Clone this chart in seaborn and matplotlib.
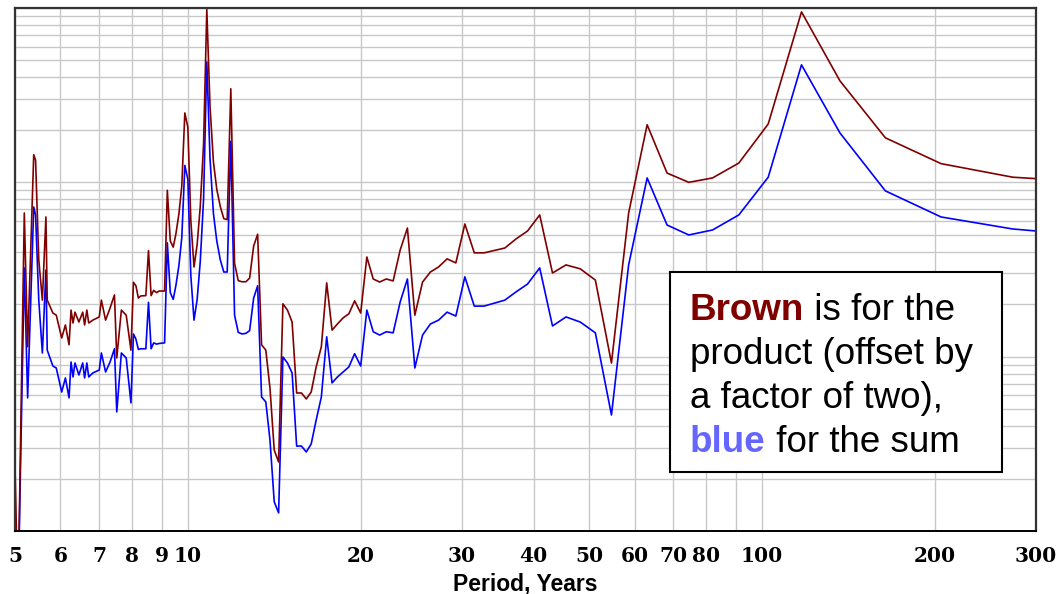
import pandas as pd
import seaborn as sns
import matplotlib
matplotlib.use("Agg")
import matplotlib.pyplot as plt
from matplotlib.patches import Rectangle
from matplotlib.ticker import LogLocator, NullFormatter

# periods (years) at which the spectrum was evaluated
period = [5.00, 5.06, 5.19, 5.26, 5.39, 5.43, 5.50, 5.58, 5.66, 5.69,
          5.82, 5.90, 6.03, 6.12, 6.21, 6.26, 6.31, 6.36, 6.46, 6.56,
          6.61, 6.67, 6.72, 6.83, 7.01, 7.07, 7.19, 7.32, 7.45, 7.52,
          7.66, 7.81, 7.96, 8.04, 8.12, 8.20, 8.28, 8.45, 8.54, 8.63,
          8.72, 8.82, 8.91, 9.11, 9.21, 9.32, 9.43, 9.53, 9.65, 9.76,
          9.88, 10.00, 10.12, 10.25, 10.38, 10.51, 10.65, 10.79, 10.93, 11.08,
          11.23, 11.39, 11.55, 11.71, 11.88, 12.06, 12.24, 12.42, 12.62, 12.81,
          13.02, 13.23, 13.44, 13.67, 13.90, 14.14, 14.39, 14.64, 14.91, 15.19,
          15.47, 15.77, 16.08, 16.40, 16.73, 17.08, 17.45, 17.83, 18.22, 18.64,
          19.07, 19.52, 20.00, 20.50, 21.03, 21.58, 22.16, 22.78, 23.43, 24.12,
          24.85, 25.63, 26.45, 27.33, 28.28, 29.29, 30.37, 31.54, 32.80, 35.65,
          37.27, 39.05, 41.00, 43.16, 45.56, 48.24, 51.25, 54.67, 58.57, 63.08,
          68.33, 74.55, 82.00, 91.11, 102.50, 117.14, 136.67, 164.00, 205.00, 273.33,
          300.00]

# product, offset by a factor of two (brown)
product_x2 = [2.33, 0.4, 66.7, 11.4, 144, 134, 35.9, 21.1, 63.3, 21.1,
              17.8, 17.3, 12.8, 15.2, 11.7, 18.5, 15.6, 18.0, 15.8, 18.0,
              15.2, 18.5, 15.6, 16.2, 16.9, 21.1, 16.2, 19.0, 22.6, 9.83,
              18.5, 17.3, 10.9, 26.7, 25.5, 21.7, 22.3, 22.4, 40.6, 22.4,
              24.0, 23.3, 23.8, 23.8, 90.0, 46.1, 42.5, 50.4, 66.3, 95.4,
              250, 207, 60.5, 32.7, 44.0, 72.6, 165, 980, 272, 131,
              91.2, 72.6, 61.9, 61.1, 344, 34.3, 27.3, 26.9, 26.9, 28.2,
              43.1, 50.4, 11.7, 10.9, 6.61, 2.91, 2.49, 20.1, 18.5, 15.8,
              6.19, 6.19, 5.72, 6.27, 8.73, 11.4, 26.5, 14.2, 15.4, 16.7,
              17.6, 20.9, 17.8, 37.3, 27.9, 26.8, 27.9, 27.2, 40.9, 54.7,
              17.3, 26.8, 30.6, 32.7, 36.4, 34.5, 57.7, 39.4, 39.4, 42.0,
              47.3, 52.6, 65.0, 30.2, 33.6, 31.9, 27.5, 9.20, 66.7, 214,
              113, 100, 106, 129, 216, 950, 382, 180, 128, 107,
              105]

# sum (blue)
sum_vals = [1.16, 0.4, 32.3, 5.80, 72.2, 65.0, 21.1, 10.5, 31.4, 10.9,
            8.84, 8.61, 6.27, 7.55, 5.80, 9.32, 7.65, 9.20, 7.85, 9.20,
            7.55, 9.20, 7.65, 8.06, 8.39, 10.5, 8.17, 9.32, 11.1, 4.82,
            10.5, 9.83, 5.43, 13.5, 12.6, 11.0, 11.1, 11.1, 20.5, 11.1,
            12.0, 11.8, 11.9, 12.0, 45.0, 23.3, 21.3, 25.5, 33.5, 48.2,
            125, 104, 29.2, 16.2, 21.3, 35.1, 79.6, 491, 137, 66.3,
            46.1, 35.9, 30.6, 30.6, 172, 17.3, 13.8, 13.5, 13.6, 14.1,
            21.7, 25.5, 5.87, 5.50, 3.33, 1.47, 1.27, 9.96, 9.20, 8.06,
            3.07, 3.07, 2.84, 3.16, 4.33, 5.87, 13.0, 7.07, 7.65, 8.17,
            8.73, 10.4, 8.84, 18.5, 13.9, 13.3, 13.9, 13.7, 20.6, 27.9,
            8.61, 13.3, 15.4, 16.2, 18.0, 17.1, 28.7, 19.5, 19.5, 21.1,
            23.5, 26.1, 32.3, 15.0, 16.9, 15.8, 13.7, 4.63, 33.6, 106,
            56.9, 49.9, 53.3, 65.0, 107, 472, 192, 89.3, 63.3, 54.0,
            52.6]

xtick_vals = [5, 6, 7, 8, 9, 10, 20, 30, 40, 50, 60, 70, 80, 100, 200, 300]
extra_xgrid = [90]

sns.set_style("white")
plt.rcParams['font.family'] = ['DejaVu Sans']

df = pd.DataFrame({"Period": period, "Product": product_x2, "Sum": sum_vals})

W, H = 1057, 594
fig = plt.figure(figsize=(W / 100, H / 100), dpi=100)
ax = fig.add_axes([15 / W, 1 - 531 / H, (1036 - 15) / W, (531 - 8) / H])

sns.lineplot(data=df, x="Period", y="Sum", color="#0000ff", lw=1.2, ax=ax, sort=False)
sns.lineplot(data=df, x="Period", y="Product", color="#800000", lw=1.2, ax=ax, sort=False)

ax.set_xscale("log")
ax.set_yscale("log")
ax.set_xlim(5, 300)
ax.set_ylim(1, 1000)

ax.set_xticks(xtick_vals)
ax.set_xticklabels([str(v) for v in xtick_vals], fontfamily="DejaVu Serif",
                   fontweight="bold", fontsize=14.5, color="black")
ax.set_xticks(extra_xgrid, minor=True)
ax.xaxis.set_minor_formatter(NullFormatter())
ax.yaxis.set_major_locator(LogLocator(base=10))
ax.yaxis.set_minor_locator(LogLocator(base=10, subs=range(2, 10)))
ax.yaxis.set_major_formatter(NullFormatter())
ax.yaxis.set_minor_formatter(NullFormatter())
ax.tick_params(axis="both", which="both", length=0)
ax.tick_params(axis="x", which="major", pad=10.5)
ax.set_axisbelow(True)
ax.grid(True, which="both", color="#c8c8c8", lw=1.0)
ax.set_ylabel("")

for side in ["left", "top", "right"]:
    ax.spines[side].set_color("#333333")
    ax.spines[side].set_linewidth(1.6)
ax.spines["bottom"].set_color("black")
ax.spines["bottom"].set_linewidth(1.4)

ax.set_xlabel("Period, Years", fontsize=16.5, fontweight="bold",
              fontfamily="Liberation Sans", color="black")
ax.xaxis.set_label_coords(0.5, -(591 - 531) / (531 - 8))
ax.xaxis.label.set_va("baseline")

# note box
ax.add_patch(Rectangle((670 / W, 1 - 472 / H), 332 / W, 200 / H, transform=fig.transFigure,
                       facecolor="white", edgecolor="black", lw=1.5, zorder=5, clip_on=False))

fs = 26.5
x0 = 690 / W
base = [319.5, 363.5, 407.5, 451.5]
font = "Liberation Sans"


def colored_line(first, first_color, first_bold, rest, y):
    t = ax.text(x0, 1 - y / H, first, transform=fig.transFigure, fontsize=fs,
                color=first_color, fontweight="bold" if first_bold else "normal",
                fontfamily=font, va="baseline", ha="left", zorder=6, clip_on=False)
    if rest:
        ax.annotate(rest, xy=(1, 0), xycoords=t, va="bottom", ha="left",
                    fontsize=fs, color="black", fontfamily=font, zorder=6,
                    annotation_clip=False)


colored_line("Brown", "#800000", True, " is for the", base[0])
colored_line("product (offset by", "black", False, "", base[1])
colored_line("a factor of two),", "black", False, "", base[2])
colored_line("blue", "#6666ff", True, " for the sum", base[3])

plt.savefig("out.png", dpi=100)
plt.close()
